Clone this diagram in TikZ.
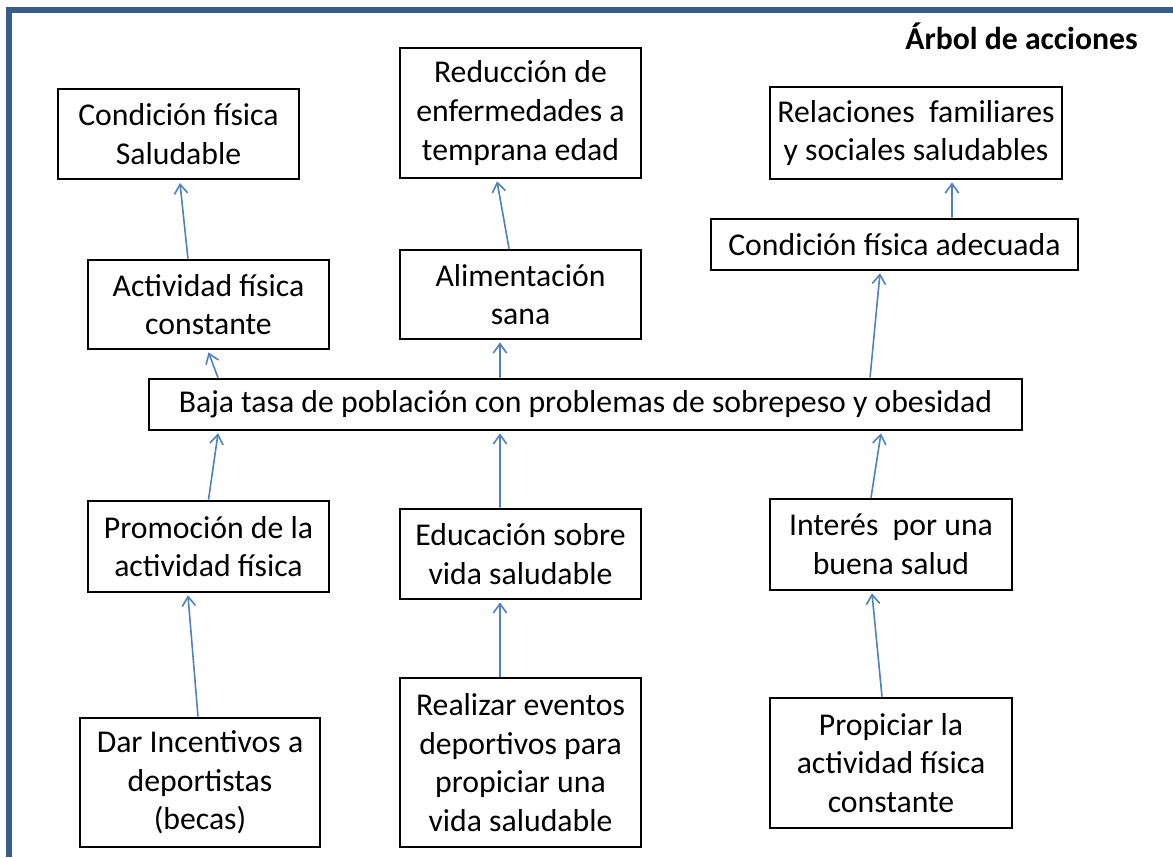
\documentclass[tikz,border=0pt]{standalone}
\usepackage{fontspec}
\setmainfont{Carlito}
\usetikzlibrary{arrows.meta}
\definecolor{framec}{RGB}{56,93,138}
\definecolor{arrc}{RGB}{79,129,189}
\begin{document}
\begin{tikzpicture}[x=0.75pt,y=-0.75pt,
  bx/.style={draw=black,line width=2pt,inner sep=0pt,align=center,
    font=\fontsize{23.8}{29}\selectfont,fill=white},
  w1/.style={minimum width=180.75pt},
  ar/.style={draw=arrc,line width=1.2pt,-{Straight Barb[length=7pt,width=10pt,line width=1.2pt]}}]
\useasboundingbox (0,0) rectangle (1173,857);
\fill[white] (0,0) rectangle (1173,857);
% frame
\draw[framec,line width=3.8pt] (6,10) -- (1173,10);
\draw[framec,line width=3.8pt] (9,8) -- (9,857);
\node[font=\fontsize{23.8}{28}\selectfont\bfseries] (title) at (1021.5,36) {Árbol de acciones};
% boxes
\node[bx,w1,minimum height=67.5pt] (A1) at (178.5,134) {Condición física\\Saludable};
\node[bx,w1,minimum height=97.5pt] (B1) at (520.5,113) {Reducción de\\enfermedades a\\temprana edad};
\node[bx,minimum width=219pt,minimum height=69pt] (C1) at (916,133) {Relaciones\ \ familiares\\y sociales saludables};
\node[bx,minimum width=275.25pt,minimum height=38.25pt] (C2) at (894.5,244.5) {Condición física adecuada};
\node[bx,w1,minimum height=66.75pt] (A2) at (208.5,304.5) {Actividad física\\constante};
\node[bx,w1,minimum height=66.75pt] (B2) at (520.5,294.5) {Alimentación\\sana};
\node[bx,minimum width=654.75pt,minimum height=38.25pt] (M) at (585.5,404.5) {Baja tasa de población con problemas de sobrepeso y obesidad};
\node[bx,w1,minimum height=68.25pt] (A3) at (208.5,546.5) {Promoción de la\\actividad física};
\node[bx,w1,minimum height=67.5pt] (B3) at (520.5,554) {Educación sobre\\vida saludable};
\node[bx,minimum width=181.5pt,minimum height=68.25pt] (C3) at (891,544.5) {Interés\ \ por una\\buena salud};
\node[bx,minimum width=180pt,minimum height=96.75pt] (A4) at (200,782.5) {Dar Incentivos a\\deportistas\\(becas)};
\node[bx,w1,minimum height=126.75pt] (B4) at (520.5,762.5) {Realizar eventos\\deportivos para\\propiciar una\\vida saludable};
\node[bx,minimum width=181.5pt,minimum height=97.5pt] (C4) at (891,763) {Propiciar la\\actividad física\\constante};
% arrows
\draw[ar] ([xshift=-15.4pt]A2.north) -- ([xshift=1.1pt,yshift=-2pt]A1.south);
\draw[ar] ([xshift=-275.6pt]M.north) -- ([yshift=-1.5pt]A2.south);
\draw[ar] (A3.north) -- ([xshift=-275.6pt,yshift=-1.5pt]M.south);
\draw[ar] ([xshift=-1.5pt]A4.north) -- ([xshift=-15.4pt,yshift=-1.5pt]A3.south);
\draw[ar] ([xshift=-8.6pt]B2.north) -- ([xshift=-17.6pt,yshift=-1.5pt]B1.south);
\draw[ar] ([xshift=-64.1pt]M.north) -- ([xshift=-15.4pt,yshift=-1.5pt]B2.south);
\draw[ar] ([xshift=-15.4pt]B3.north) -- ([xshift=-64.1pt,yshift=-1.5pt]M.south);
\draw[ar] ([xshift=-15.4pt]B4.north) -- ([xshift=-15.4pt,yshift=-1.5pt]B3.south);
\draw[ar] ([xshift=43.1pt]C2.north) -- ([xshift=27pt,yshift=-1.5pt]C1.south);
\draw[ar] ([xshift=213.4pt]M.north) -- ([xshift=-10.9pt,yshift=-1.5pt]C2.south);
\draw[ar] ([xshift=-15pt]C3.north) -- ([xshift=221.6pt,yshift=-1.5pt]M.south);
\draw[ar] ([xshift=-6.75pt]C4.north) -- ([xshift=-14.25pt,yshift=-1.5pt]C3.south);
\end{tikzpicture}
\end{document}
